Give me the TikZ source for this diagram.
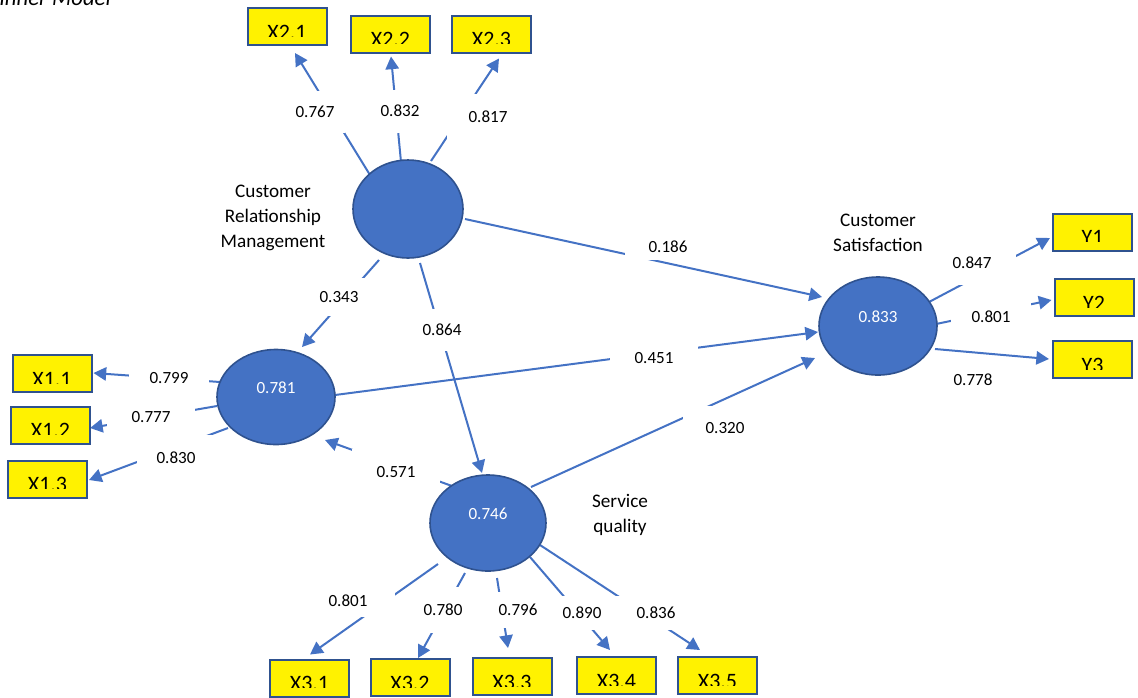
\documentclass[tikz,border=0pt]{standalone}
\usepackage{fontspec}
\setmainfont{Carlito}
\usetikzlibrary{arrows.meta,calc,shapes.geometric,backgrounds}
\definecolor{lvblue}{HTML}{4472C4}
\definecolor{lvedge}{HTML}{2F528F}
\tikzset{
  latent/.style={ellipse, fill=lvblue, draw=lvedge, line width=1.2pt, inner sep=0pt,
    text=white, font=\fontsize{12.8}{15}\selectfont},
  ind/.style={rectangle, fill=yellow, draw=lvedge, line width=1.5pt,
    minimum width=59.25pt, minimum height=27.75pt, inner sep=0pt},
  indtext/.style={font=\fontsize{16.5}{19}\selectfont, inner sep=0pt, anchor=base},
  arr/.style={draw=lvblue, line width=1.5pt, -{Triangle[length=9.5pt,width=10pt]}},
  coef/.style={fill=white, inner sep=0pt, font=\fontsize{12.8}{15}\selectfont},
  lvname/.style={align=center, inner sep=0pt, font=\fontsize{14.4}{18.75}\selectfont}
}
\newcommand\indbox[3]{%
  \node[ind] (#1) at (#2) {};
  \begin{scope}
    \clip ($(#1.south west)+(0,-10)$) rectangle (#1.north east);
    \node[indtext] (#1t) at ($(#1.south)+(0,-7)$) {#3};
  \end{scope}}
\begin{document}
\begin{tikzpicture}[x=0.75pt,y=-0.75pt]
\useasboundingbox (0,0) rectangle (1138,697);

\node[anchor=base west, inner sep=0pt, font=\fontsize{17}{20}\selectfont\itshape] (title) at (-1,5) {Inner Model};

% latent variables
\node[latent, minimum width=82.5pt, minimum height=73.5pt] (crm) at (408,209) {};
\node[latent, minimum width=88.5pt, minimum height=71.25pt] (x1) at (276,397) {\raisebox{13.5pt}{0.781}};
\node[latent, minimum width=87pt, minimum height=72pt] (sq) at (488,523) {\raisebox{13.5pt}{0.746}};
\node[latent, minimum width=88.5pt, minimum height=73.5pt] (cs) at (878,326) {\raisebox{13.5pt}{0.833}};

% indicators
\indbox{x21}{287,26.5}{X2.1}
\indbox{x22}{390.5,34}{X2.2}
\indbox{x23}{491.5,34}{X2.3}
\indbox{x11}{52,373.5}{X1.1}
\indbox{x12}{50.5,425}{X1.2}
\indbox{x13}{47.5,479}{X1.3}
\indbox{y1}{1092.5,232}{Y1}
\indbox{y2}{1094,297.5}{Y2}
\indbox{y3}{1092.5,359.5}{Y3}
\indbox{x31}{309.5,678}{X3.1}
\indbox{x32}{410,677.5}{X3.2}
\indbox{x33}{512,676.5}{X3.3}
\indbox{x34}{616.5,675.5}{X3.4}
\indbox{x35}{717.5,675.5}{X3.5}

% names
\node[lvname] (crmname) at (273,218) {Customer\\Relationship\\Management};
\node[lvname] (csname) at (878,233) {Customer\\Satisfaction};
\node[lvname] (sqname) at (620,515) {Service\\quality};

\begin{pgfonlayer}{background}
% connectors
\draw[arr] ($(crm)+(-38,-34)$) -- ($(x21.south)+(8,7)$);
\draw[arr] ($(crm)+(-7,-47)$) -- ($(x22.south)+(0.5,3)$);
\draw[arr] ($(crm)+(23,-48)$) -- ($(x23.south)+(7.5,5)$);
\draw[arr] ($(crm)+(-29,51)$) -- ($(x1)+(26,-50)$);
\draw[arr] ($(crm)+(12,54)$) -- ($(sq)+(-6,-50)$);
\draw[arr] ($(crm)+(57,10)$) -- ($(cs)+(-56,-29)$);
\draw[arr] ($(x1)+(-56,-15)$) -- ($(x11.east)+(1,-0.5)$);
\draw[arr] ($(x1)+(-59,9)$) -- ($(x12.east)+(-1,3)$);
\draw[arr] ($(x1)+(-48,31)$) -- ($(x13.east)+(1,1)$);
\draw[arr] ($(x1)+(59,-2)$) -- ($(cs)+(-60,6)$);
\draw[arr] ($(sq)+(-36,-37)$) -- ($(x1)+(49,43)$);
\draw[arr] ($(sq)+(43,-36)$) -- ($(cs)+(-63,32)$);
\draw[arr] ($(sq)+(-50,41)$) -- ($(x31.north)+(0.5,-4)$);
\draw[arr] ($(sq)+(-23,50)$) -- ($(x32.north)+(8,0)$);
\draw[arr] ($(sq)+(9,55)$) -- ($(x33.north)+(-4,-9)$);
\draw[arr] ($(sq)+(42,34)$) -- ($(x34.north)+(-6.5,-6)$);
\draw[arr] ($(sq)+(52,22)$) -- ($(x35.north)+(-17.5,-6)$);
\draw[arr] ($(cs)+(51,-24)$) -- ($(y1.west)+(-2,6)$);
\draw[arr] ($(cs)+(58,-2)$) -- ($(y2.west)+(-2,2.5)$);
\draw[arr] ($(cs)+(57,23)$) -- ($(y3.west)+(-3,-0.5)$);

% coefficients
\node[coef, minimum width=45pt, minimum height=31.5pt] (c1) at (315,112) {0.767};
\node[coef, minimum width=34.5pt, minimum height=32.25pt] (c2) at (400,111) {0.832};
\node[coef, minimum width=61.5pt, minimum height=34.5pt] (c3) at (488,117) {0.817};
\node[coef, minimum width=39pt, minimum height=28.5pt] (c4) at (339,297) {0.343};
\node[coef, minimum width=34.5pt, minimum height=31.5pt] (c5) at (442,330) {0.864};
\node[coef, minimum width=64.5pt, minimum height=19.5pt] (c6) at (668,247) {0.186};
\node[coef, minimum width=66pt, minimum height=18pt] (c7) at (654,358) {0.451};
\node[coef, minimum width=63pt, minimum height=33pt] (c8) at (725,428) {0.320};
\node[coef, minimum width=66pt, minimum height=34.5pt] (c9) at (396,472) {0.571};
\node[coef, minimum width=60pt, minimum height=15pt] (c10) at (169,378) {0.799};
\node[coef, minimum width=66pt, minimum height=18pt] (c11) at (151,417) {0.777};
\node[coef, minimum width=58.5pt, minimum height=34.5pt] (c12) at (176,458) {0.830};
\node[coef, minimum width=66pt, minimum height=33pt] (c13) at (972,263) {0.847};
\node[coef, minimum width=60pt, minimum height=21pt] (c14) at (991,317) {0.801};
\node[coef] (c15) at (973,380) {0.778};
\node[coef, minimum width=70.5pt, minimum height=24pt] (c16) at (348,601) {0.801};
\node[coef, minimum width=33pt, minimum height=34.5pt] (c17) at (443,610) {0.780};
\node[coef, minimum width=33pt, minimum height=27pt] (c18) at (518,610) {0.796};
\node[coef, minimum width=37.5pt, minimum height=25.5pt] (c19) at (582,613) {0.890};
\node[coef, minimum width=64.5pt, minimum height=25.5pt] (c20) at (656,613) {0.836};
\end{pgfonlayer}
\end{tikzpicture}
\end{document}
